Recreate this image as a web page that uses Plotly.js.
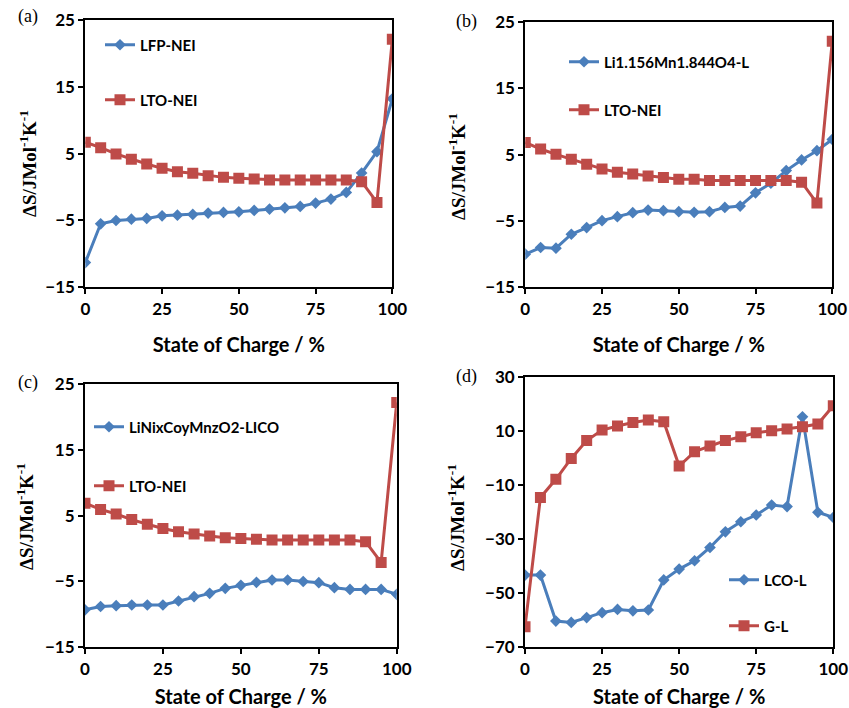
<!DOCTYPE html>
<html>
<head>
<meta charset="utf-8">
<script src="https://cdn.plot.ly/plotly-3.0.1.min.js"></script>
<style>html,body{margin:0;padding:0;background:#fff;}#chart{width:849px;height:708px;}</style>
</head>
<body>
<div id="chart"></div>
<script>
const soc = [0,5,10,15,20,25,30,35,40,45,50,55,60,65,70,75,80,85,90,95,100];

const lfpNei = [-11.3,-5.5,-5.0,-4.8,-4.7,-4.3,-4.2,-4.1,-3.9,-3.8,-3.7,-3.5,-3.3,-3.1,-2.9,-2.4,-1.8,-0.8,2.1,5.3,13.2];
const ltoNeiA = [6.7,5.9,4.95,4.15,3.45,2.8,2.3,2.05,1.7,1.45,1.3,1.2,1.05,1.05,1.05,1.05,1.05,1.05,0.8,-2.3,22.1];
const limnL = [-10.0,-9.0,-9.1,-7.0,-6.0,-4.95,-4.35,-3.75,-3.35,-3.45,-3.6,-3.7,-3.6,-2.95,-2.75,-0.75,0.7,2.6,4.2,5.6,7.3];
const ltoNeiB = [6.85,5.85,5.05,4.3,3.55,2.85,2.35,2.1,1.8,1.55,1.3,1.3,1.1,1.1,1.1,1.1,1.1,1.1,0.85,-2.3,22.1];
const nmcLico = [-9.3,-8.8,-8.67,-8.57,-8.57,-8.57,-7.96,-7.3,-6.8,-6.04,-5.58,-5.13,-4.77,-4.77,-5.0,-5.18,-5.94,-6.2,-6.2,-6.2,-6.95];
const ltoNeiC = [6.9,5.95,5.25,4.4,3.7,3.05,2.55,2.2,1.9,1.66,1.55,1.4,1.3,1.3,1.3,1.3,1.3,1.3,1.05,-2.1,22.2];
const lcoL = [-43.3,-43.3,-60.3,-60.8,-59.0,-57.2,-56.0,-56.5,-56.2,-45.1,-41.1,-38.0,-33.1,-27.3,-23.6,-21.1,-17.4,-18.0,15.2,-20.1,-22.0];
const gL = [-62.4,-14.6,-7.9,-0.2,6.4,10.3,11.8,13.1,14.0,13.4,-3.0,2.3,4.4,6.4,7.8,9.3,10.0,10.7,11.5,12.5,19.3];

const names = ['LFP-NEI','LTO-NEI','Li1.156Mn1.844O4-L','LTO-NEI','LiNixCoyMnzO2-LICO','LTO-NEI','LCO-L','G-L'];
const panelLabels = ['(a)','(b)','(c)','(d)'];
const xTitle = 'State of Charge / %';
const yTitle = '\u0394S/JMol<sup>-1</sup>K<sup>-1</sup>';

const BLUE = '#4A7EBB', RED = '#BE4B48';
const series = [lfpNei, ltoNeiA, limnL, ltoNeiB, nmcLico, ltoNeiC, lcoL, gL];
const axisIds = [['x','y'],['x','y'],['x2','y2'],['x2','y2'],['x3','y3'],['x3','y3'],['x4','y4'],['x4','y4']];

const traces = series.map((s,i)=>{
  const blue = i%2===0;
  return {
    x: soc, y: s, type:'scatter', mode:'lines+markers', name: names[i],
    xaxis: axisIds[i][0], yaxis: axisIds[i][1],
    legend: i===0 ? 'legend' : 'legend'+(i+1),
    line:{color: blue?BLUE:RED, width:3},
    marker:{symbol: blue?'diamond':'square', size: blue?9:11, color: blue?BLUE:RED},
    showlegend:true
  };
});

const tickFont = {family:'Lato, "Open Sans", sans-serif', size:17, color:'#000', weight:'bold'};
function xa(dom, anchor, so){
  return {domain:dom, anchor:anchor, range:[0,100], tickvals:[0,25,50,75,100], ticks:'outside', ticklen:5, tickwidth:2, tickcolor:'#000',
    showline:true, linecolor:'#000', linewidth:2, mirror:true, showgrid:false, zeroline:false, fixedrange:true,
    tickfont:tickFont, automargin:false,
    title:{text:xTitle, font:{family:'Lato, sans-serif', size:20, color:'#000', weight:'bold'}, standoff:so}};
}
function ya(dom, anchor, rng, dt){
  return {domain:dom, anchor:anchor, range:rng, dtick:dt, tick0:rng[0], ticks:'outside', ticklen:5, tickwidth:2, tickcolor:'#000',
    showline:true, linecolor:'#000', linewidth:2, mirror:true, showgrid:false, zeroline:false, fixedrange:true,
    tickfont:tickFont, automargin:false};
}

const legFont = {family:'Lato, sans-serif', size:15, color:'#000', weight:'bold'};
const legPos = [[106,45],[106,100],[570,62],[570,110],[95,427],[95,486],[730,580],[730,626]];
const panelPos = [[28,17],[466,22],[28,382],[466,376]];
const yTitlePos = [[28,164],[457,167],[25,517],[456,518]];
const anns = panelPos.map((p,i)=>({
  text: panelLabels[i], xref:'paper', yref:'paper', x:p[0]/849, y:1-p[1]/708, xanchor:'center', yanchor:'middle',
  showarrow:false, font:{family:'Liberation Serif, Times New Roman, serif', size:18, color:'#000'}
})).concat(yTitlePos.map(p=>({
  text: yTitle, xref:'paper', yref:'paper', x:p[0]/849, y:1-p[1]/708, xanchor:'center', yanchor:'middle', textangle:-90,
  showarrow:false, font:{family:'Liberation Serif, Times New Roman, serif', size:19, color:'#000', weight:'bold'}
})));

const layout = {
  width:849, height:708, margin:{l:0,r:0,t:0,b:0}, paper_bgcolor:'#fff', plot_bgcolor:'#fff',
  xaxis: xa([0.1005,0.4621],'y',20), yaxis: ya([0.5942,0.9718],'x',[-15,25],10),
  xaxis2: xa([0.6187,0.9803],'y2',20), yaxis2: ya([0.5942,0.9689],'x2',[-15,25],10),
  xaxis3: xa([0.1001,0.4673],'y3',14), yaxis3: ya([0.0857,0.4576],'x3',[-15,25],10),
  xaxis4: xa([0.6184,0.9815],'y4',14), yaxis4: ya([0.0857,0.4679],'x4',[-70,30],20),
  annotations: anns
};
legPos.forEach((p,i)=>{
  const key = i===0 ? 'legend' : 'legend'+(i+1);
  layout[key] = {x:(p[0]-6)/849, y:1-p[1]/708, xanchor:'left', yanchor:'middle', bgcolor:'rgba(0,0,0,0)',
    borderwidth:0, font:legFont, itemwidth:30, tracegroupgap:0};
});

Plotly.newPlot('chart', traces, layout, {staticPlot:true, displayModeBar:false});
</script>
</body>
</html>
